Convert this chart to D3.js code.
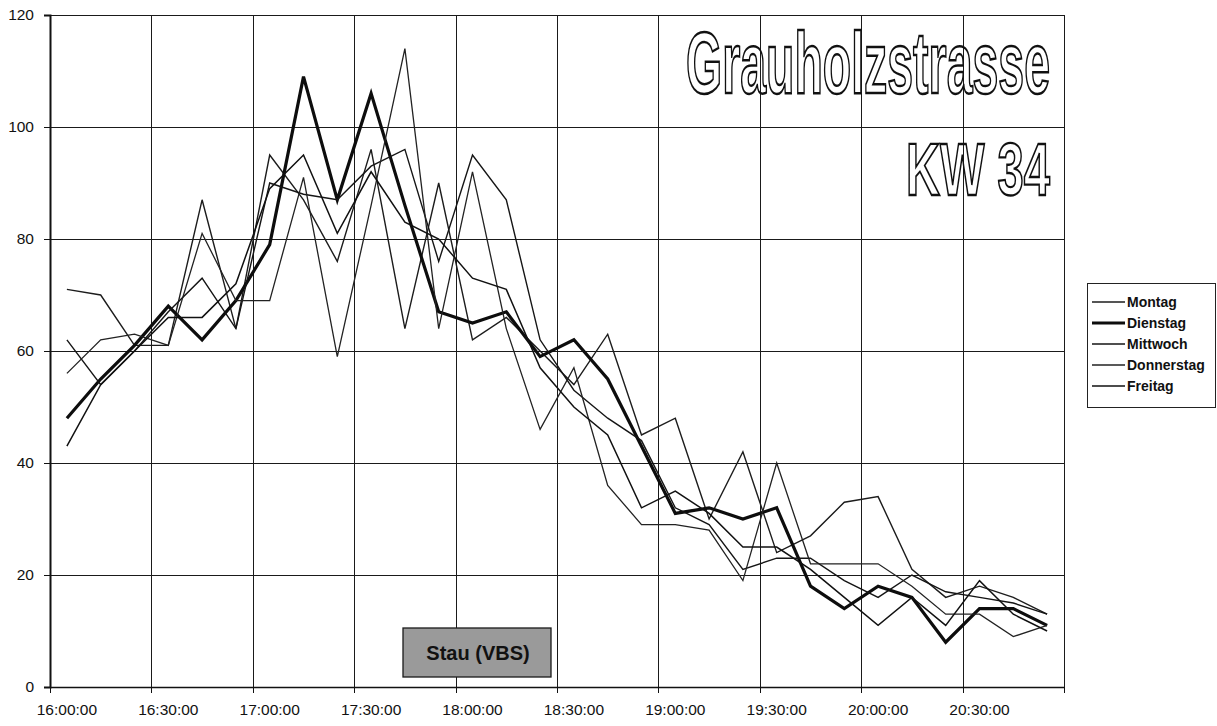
<!DOCTYPE html>
<html>
<head>
<meta charset="utf-8">
<script src="https://cdn.jsdelivr.net/npm/d3@7"></script>
<style>
  html, body { margin: 0; padding: 0; background: #fff; }
  svg { display: block; }
  text { font-family: "Liberation Sans", Arial, sans-serif; }
</style>
</head>
<body>
<svg id="chart" width="1217" height="726"></svg>
<script>
// 10-minute intervals, 16:00 to 20:50
const times = ["16:00:00","16:10:00","16:20:00","16:30:00","16:40:00","16:50:00",
  "17:00:00","17:10:00","17:20:00","17:30:00","17:40:00","17:50:00",
  "18:00:00","18:10:00","18:20:00","18:30:00","18:40:00","18:50:00",
  "19:00:00","19:10:00","19:20:00","19:30:00","19:40:00","19:50:00",
  "20:00:00","20:10:00","20:20:00","20:30:00","20:40:00","20:50:00"];

const montag     = [71, 70, 61, 61, 87, 64, 95, 87, 76, 96, 64, 90, 62, 66, 60, 54, 63, 45, 48, 30, 42, 24, 27, 33, 34, 21, 16, 18, 16, 13];
const dienstag   = [48, 55, 61, 68, 62, 69, 79, 109, 87, 106, 86, 67, 65, 67, 59, 62, 55, 43, 31, 32, 30, 32, 18, 14, 18, 16, 8, 14, 14, 11];
const mittwoch   = [62, 54, 60, 67, 73, 64, 90, 88, 87, 93, 96, 76, 95, 87, 62, 53, 48, 44, 32, 29, 21, 23, 23, 19, 16, 20, 17, 16, 15, 13];
const donnerstag = [56, 62, 63, 61, 81, 69, 69, 91, 59, 86, 114, 64, 92, 64, 46, 57, 36, 29, 29, 28, 19, 40, 22, 22, 22, 18, 13, 13, 9, 11];
const freitag    = [43, 54, 60, 66, 66, 72, 89, 95, 81, 92, 83, 80, 73, 71, 57, 50, 45, 32, 35, 31, 25, 25, 21, 16, 11, 16, 11, 19, 13, 10];

const yTicks = [0, 20, 40, 60, 80, 100, 120];
const xLabels = ["16:00:00","16:30:00","17:00:00","17:30:00","18:00:00","18:30:00",
  "19:00:00","19:30:00","20:00:00","20:30:00"];

const seriesNames = ["Montag", "Dienstag", "Mittwoch", "Donnerstag", "Freitag"];
const seriesValues = [montag, dienstag, mittwoch, donnerstag, freitag];
const seriesWidth = [1.4, 3.2, 1.4, 1.3, 1.5];
const seriesColor = ["#1c1c1c", "#0d0d0d", "#151515", "#222", "#111"];

const svg = d3.select("#chart");
const plot = { left: 50, right: 1064, top: 15, bottom: 687 };

const x = d3.scaleBand().domain(times).range([plot.left, plot.right]).padding(0);
const y = d3.scaleLinear().domain([0, 120]).range([plot.bottom, plot.top]);
const xc = t => x(t) + x.bandwidth() / 2;

// gridlines at every third category boundary (30 minutes)
const gridX = times.filter((t, i) => i % 3 === 0 && i > 0).map(t => x(t)).concat([plot.right]);
const grid = svg.append("g").attr("stroke", "#1a1a1a").attr("stroke-width", 1).attr("shape-rendering", "crispEdges");
grid.selectAll("line.gy").data(yTicks.filter(v => v > 0)).join("line")
  .attr("x1", plot.left).attr("x2", plot.right)
  .attr("y1", d => Math.round(y(d)) + 0.5).attr("y2", d => Math.round(y(d)) + 0.5);
grid.selectAll("line.gx").data(gridX).join("line")
  .attr("x1", d => Math.round(d) + 0.5).attr("x2", d => Math.round(d) + 0.5)
  .attr("y1", plot.top).attr("y2", plot.bottom);

// title, outlined condensed lettering: natural width is squeezed to fit
const titleFont = "'Liberation Sans Narrow', 'DejaVu Sans Condensed', 'Liberation Sans', sans-serif";
function outlinedTitle(str, right, baseline, size, width) {
  const g = svg.append("g");
  const t = g.append("text")
    .attr("x", 0).attr("y", 0)
    .attr("text-anchor", "end")
    .attr("font-family", titleFont)
    .attr("font-weight", "bold")
    .attr("font-size", size)
    .attr("fill", "none").attr("stroke", "#111")
    .text(str);
  const natural = t.node().getComputedTextLength();
  const sx = width / natural;
  t.attr("stroke-width", 1.8 / Math.sqrt(sx));
  g.attr("transform", `translate(${right},${baseline}) scale(${sx},1)`);
}
outlinedTitle("Grauholzstrasse", 1050, 93, 88, 364);
outlinedTitle("KW 34", 1050, 195, 74, 144);

// axes
const yAxis = d3.axisLeft(y).tickValues(yTicks).tickSize(6).tickPadding(10);
const gy = svg.append("g").attr("transform", `translate(${plot.left},0)`).call(yAxis);
gy.select(".domain").attr("stroke", "#111").attr("stroke-width", 2);
gy.selectAll(".tick line").attr("stroke", "#111");
gy.selectAll(".tick text").attr("font-size", 15.5).attr("fill", "#111")
  .attr("font-family", "'Liberation Sans', Arial, sans-serif");

const gx = svg.append("g").attr("transform", `translate(0,${plot.bottom})`);
gx.append("line").attr("x1", plot.left).attr("x2", plot.right)
  .attr("y1", 0.5).attr("y2", 0.5).attr("stroke", "#111").attr("stroke-width", 1.5);
gx.selectAll("line.tk").data([plot.left].concat(gridX)).join("line")
  .attr("x1", d => Math.round(d) + 0.5).attr("x2", d => Math.round(d) + 0.5)
  .attr("y1", 0).attr("y2", 6).attr("stroke", "#111");
gx.selectAll("text").data(xLabels).join("text")
  .attr("x", d => xc(d)).attr("y", 28)
  .attr("text-anchor", "middle")
  .attr("font-size", 15.5).attr("fill", "#111")
  .text(d => d);

// data lines
const line = d3.line().x((d, i) => xc(times[i])).y(d => y(d));
svg.append("g").selectAll("path").data(seriesValues).join("path")
  .attr("d", d => line(d))
  .attr("fill", "none")
  .attr("stroke", (d, i) => seriesColor[i])
  .attr("stroke-width", (d, i) => seriesWidth[i])
  .attr("stroke-linejoin", "miter");

// annotation box
const stau = svg.append("g");
stau.append("rect").attr("x", 403).attr("y", 628).attr("width", 148).attr("height", 49)
  .attr("fill", "#9a9a9a").attr("stroke", "#1a1a1a").attr("stroke-width", 1.3);
stau.append("text").attr("x", 478).attr("y", 660).attr("text-anchor", "middle")
  .attr("font-size", 20).attr("font-weight", "bold").attr("fill", "#111")
  .text("Stau (VBS)");

// legend
const lg = svg.append("g");
lg.append("rect").attr("x", 1087.5).attr("y", 283.5).attr("width", 128).attr("height", 124)
  .attr("fill", "#fff").attr("stroke", "#222").attr("stroke-width", 1);
const rows = lg.selectAll("g.row").data(seriesNames).join("g")
  .attr("transform", (d, i) => `translate(0,${302 + i * 21})`);
rows.append("line").attr("x1", 1092).attr("x2", 1125).attr("y1", 0).attr("y2", 0)
  .attr("stroke", (d, i) => seriesColor[i])
  .attr("stroke-width", (d, i) => seriesWidth[i]);
rows.append("text").attr("x", 1127).attr("y", 5)
  .attr("font-size", 14).attr("font-weight", "bold").attr("fill", "#111")
  .text(d => d);
</script>
</body>
</html>
